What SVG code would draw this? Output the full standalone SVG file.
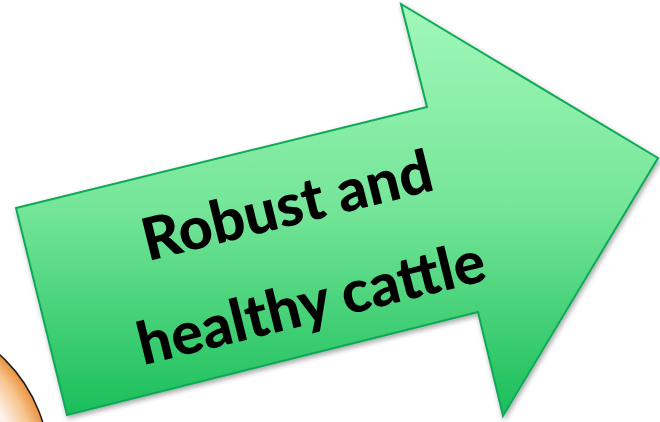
<svg xmlns="http://www.w3.org/2000/svg" width="660" height="422" viewBox="0 0 660 422">
  <defs>
    <linearGradient id="arrowFill" gradientUnits="userSpaceOnUse" x1="0" y1="0" x2="0" y2="422">
      <stop offset="0" stop-color="#A2F8BA"/>
      <stop offset="0.5" stop-color="#74E598"/>
      <stop offset="1" stop-color="#17BD58"/>
    </linearGradient>
    <radialGradient id="orangeFill" gradientUnits="userSpaceOnUse" cx="-102" cy="467" r="152">
      <stop offset="0" stop-color="#FFFFFF"/>
      <stop offset="0.76" stop-color="#FDF2EA"/>
      <stop offset="0.9" stop-color="#F7C590"/>
      <stop offset="1" stop-color="#E8903A"/>
    </radialGradient>
    <filter id="shadow" x="-10%" y="-10%" width="120%" height="120%">
      <feDropShadow dx="1.5" dy="2.5" stdDeviation="2.5" flood-color="#000000" flood-opacity="0.35"/>
    </filter>
    <style>
      .arrow { fill: url(#arrowFill); stroke: #10A858; stroke-width: 2; stroke-linejoin: miter; }
      .label { font-family: Lato, "Open Sans", "Liberation Sans", sans-serif; font-weight: 900; font-size: 59px; fill: #000000; text-anchor: middle; }
      .disc { fill: url(#orangeFill); stroke: #1A1A1A; stroke-width: 1.5; }
    </style>
  </defs>
  <rect width="660" height="422" fill="#FFFFFF"/>
  <g id="orange-disc">
    <circle class="disc" cx="-102" cy="467" r="151.5"/>
  </g>
  <g id="arrow-node">
    <polygon class="arrow" filter="url(#shadow)" points="16,208 427,107 401,4 658,158 503,416 478,312 67,415"/>
    <g transform="rotate(-13.9 304 274)">
      <text class="label" x="304" y="224">Robust and</text>
      <text class="label" x="304" y="324">healthy cattle</text>
    </g>
  </g>
  <g id="connectors"/>
</svg>
